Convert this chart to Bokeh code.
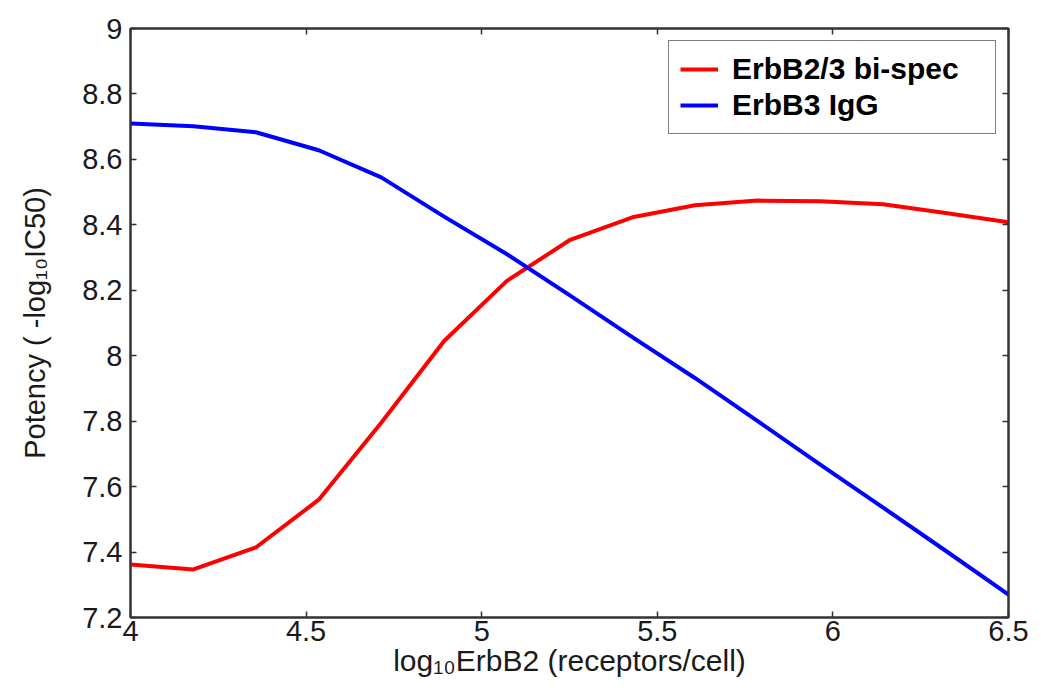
from bokeh.plotting import figure
from bokeh.models import (Range1d, FixedTicker, LinearAxis, Legend, LegendItem,
                          CustomJSTickFormatter)
from bokeh.embed import file_html
from bokeh.resources import INLINE

# ---- data ----
log_erbb2 = [4.0, 4.179, 4.357, 4.536, 4.714, 4.893, 5.071, 5.25, 5.429,
             5.607, 5.786, 5.964, 6.143, 6.321, 6.5]
bispec = [7.362, 7.347, 7.414, 7.56, 7.795, 8.045, 8.228, 8.353, 8.423,
          8.46, 8.474, 8.472, 8.463, 8.436, 8.408]
igg = [8.710, 8.701, 8.683, 8.628, 8.545, 8.425, 8.311, 8.185, 8.057,
       7.932, 7.80, 7.667, 7.536, 7.404, 7.27]
series_names = ["ErbB2/3 bi-spec", "ErbB3 IgG"]
x_ticks = [4, 4.5, 5, 5.5, 6, 6.5]
y_ticks = [7.2, 7.4, 7.6, 7.8, 8.0, 8.2, 8.4, 8.6, 8.8, 9.0]
x_title = "log\u2081\u2080ErbB2 (receptors/cell)"
y_title = "Potency ( -log\u2081\u2080IC50)"

FONT = "Liberation Sans"
AX = "#333333"

p = figure(width=1040, height=686, output_backend="svg", toolbar_location=None,
           x_range=Range1d(4, 6.5), y_range=Range1d(7.2, 9),
           min_border_left=130, min_border_right=32, min_border_top=28,
           min_border_bottom=69, background_fill_color="white",
           border_fill_color="white")
p.outline_line_color = AX
p.outline_line_width = 2
p.grid.visible = False

fmt = CustomJSTickFormatter(code="return String(Math.round(tick*10)/10);")

for ax in p.axis:
    ax.formatter = fmt
    ax.axis_line_color = AX
    ax.axis_line_width = 2
    ax.major_tick_in = 6
    ax.major_tick_out = 0
    ax.major_tick_line_color = AX
    ax.major_tick_line_width = 1.5
    ax.minor_tick_line_color = None
    ax.major_label_text_font = FONT
    ax.major_label_text_font_size = "29px"
    ax.major_label_text_color = "#1a1a1a"
    ax.axis_label_text_font = FONT
    ax.axis_label_text_font_style = "normal"
    ax.axis_label_text_color = "#1a1a1a"
p.xaxis.ticker = FixedTicker(ticks=x_ticks)
p.yaxis.ticker = FixedTicker(ticks=y_ticks)
p.xaxis.major_label_standoff = 3
p.yaxis.major_label_standoff = 8
p.xaxis.axis_label = x_title
p.xaxis.axis_label_text_font_size = "30px"
p.xaxis.axis_label_standoff = 0
p.yaxis.axis_label = y_title
p.yaxis.axis_label_text_font_size = "29px"
p.yaxis.axis_label_standoff = 28

for loc, ticks in (("above", x_ticks), ("right", y_ticks)):
    a = LinearAxis(ticker=FixedTicker(ticks=ticks), axis_line_color=AX,
                   axis_line_width=2, major_tick_in=6, major_tick_out=0,
                   major_tick_line_color=AX, major_tick_line_width=1.5,
                   minor_tick_line_color=None, major_label_text_font_size="0px",
                   major_label_text_color=None, major_label_standoff=0)
    p.add_layout(a, loc)

r1 = p.line(log_erbb2, bispec, line_color="#ff0000", line_width=4, line_join="round")
r2 = p.line(log_erbb2, igg, line_color="#0000ff", line_width=4, line_join="round")

legend = Legend(items=[LegendItem(label=series_names[0], renderers=[r1]),
                       LegendItem(label=series_names[1], renderers=[r2])],
                location="top_right", margin=12, padding=11, spacing=2,
                glyph_width=38, glyph_height=28, label_height=28, label_width=252,
                label_standoff=14, label_text_font=FONT,
                label_text_font_size="30px", label_text_font_style="bold",
                label_text_color="black", border_line_color="black",
                border_line_width=1.5, background_fill_color="white",
                background_fill_alpha=1)
p.add_layout(legend)

open("out.html", "w").write(file_html(p, INLINE))
